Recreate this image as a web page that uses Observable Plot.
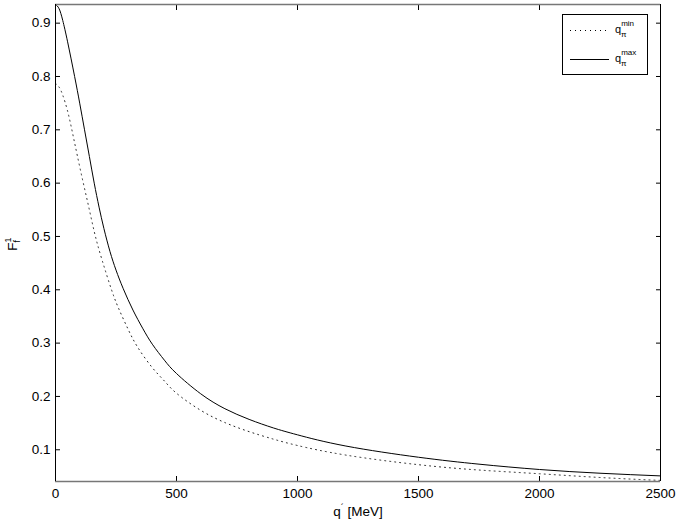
<!DOCTYPE html>
<html><head><meta charset="utf-8">
<script src="https://cdn.jsdelivr.net/npm/d3@7"></script>
<script src="https://cdn.jsdelivr.net/npm/@observablehq/plot@0.6"></script>
<style>
body{margin:0;background:#fff;}
#chart svg{display:block;}
</style></head><body><div id="chart"></div>
<script>
// q' [MeV] sample points and form factor values
const qMax = [0, 15, 30, 50, 79, 100, 120, 140, 160, 180, 200, 225, 250, 280, 320, 360, 400, 450, 500, 600, 700, 800, 900, 1000, 1200, 1500, 1750, 2000, 2250, 2500];
const fMax = [0.935, 0.927, 0.905, 0.865, 0.800, 0.750, 0.700, 0.650, 0.600, 0.555, 0.515, 0.472, 0.437, 0.402, 0.362, 0.328, 0.298, 0.268, 0.243, 0.205, 0.177, 0.157, 0.141, 0.128, 0.107, 0.086, 0.073, 0.063, 0.056, 0.051];
const qMin = [0, 15, 30, 50, 70, 90, 115, 140, 165, 195, 230, 260, 300, 340, 400, 450, 500, 600, 700, 800, 900, 1000, 1200, 1500, 1750, 2000, 2250, 2500];
const fMin = [0.787, 0.780, 0.765, 0.735, 0.695, 0.652, 0.600, 0.550, 0.500, 0.452, 0.402, 0.366, 0.326, 0.292, 0.254, 0.229, 0.206, 0.174, 0.151, 0.134, 0.120, 0.108, 0.090, 0.072, 0.062, 0.055, 0.048, 0.0425];
const xTicks = [0, 500, 1000, 1500, 2000, 2500];
const yTicks = [0.1, 0.2, 0.3, 0.4, 0.5, 0.6, 0.7, 0.8, 0.9];
const xDomain = [0, 2500];
const yDomain = [0.0405, 0.935];
const legendLabels = ["min", "max"];

const dataMin = qMin.map((q, i) => ({q, f: fMin[i]}));
const dataMax = qMax.map((q, i) => ({q, f: fMax[i]}));

const font = "'Liberation Sans', Arial, Helvetica, sans-serif";

const plot = Plot.plot({
  width: 680,
  height: 523,
  marginLeft: 55,
  marginRight: 20,
  marginTop: 4,
  marginBottom: 42,
  style: {fontFamily: font, fontSize: "13.5px", color: "black", background: "white"},
  x: {domain: xDomain, ticks: xTicks, label: null},
  y: {domain: yDomain, ticks: yTicks, label: null},
  marks: [
    Plot.axisX({anchor: "bottom", ticks: xTicks, tickSize: -5, tickPadding: 12, tickFormat: d => String(d), label: null}),
    Plot.axisX({anchor: "top", ticks: xTicks, tickSize: -5, tickFormat: () => "", label: null}),
    Plot.axisY({anchor: "left", ticks: yTicks, tickSize: -5, tickPadding: 10, tickFormat: d => d.toFixed(1), label: null}),
    Plot.axisY({anchor: "right", ticks: yTicks, tickSize: -5, tickFormat: () => "", label: null}),
    Plot.line(dataMin, {x: "q", y: "f", stroke: "#222", strokeWidth: 1, strokeDasharray: "1 4", curve: "natural"}),
    Plot.line(dataMax, {x: "q", y: "f", stroke: "black", strokeWidth: 1, curve: "natural"}),
    Plot.ruleY([yDomain[0], yDomain[1]], {stroke: "#777", strokeWidth: 1.5}),
    Plot.ruleX([xDomain[0], xDomain[1]], {stroke: "black", strokeWidth: 1})
  ]
});
document.getElementById("chart").appendChild(plot);

const svg = d3.select(plot);

// x label: q' [MeV]
const xl = svg.append("text")
  .attr("x", 358).attr("y", 516)
  .attr("text-anchor", "middle")
  .attr("font-family", font).attr("font-size", "13.5px").attr("fill", "black");
xl.append("tspan").text("q");
xl.append("tspan").attr("dy", -6).attr("font-size", "9px").text("´");
xl.append("tspan").attr("dy", 6).text(" [MeV]");

// y label: F_f^1 rotated
const yl = svg.append("text")
  .attr("transform", "translate(17,244) rotate(-90)")
  .attr("text-anchor", "middle")
  .attr("font-family", font).attr("font-size", "13.5px").attr("fill", "black");
yl.append("tspan").text("F");
yl.append("tspan").attr("dy", -6).attr("font-size", "9px").text("1");
yl.append("tspan").attr("dx", -5).attr("dy", 9).attr("font-size", "9px").text("f");

// legend box
const lg = svg.append("g").attr("text-anchor", "start");
lg.append("rect").attr("x", 562.5).attr("y", 14.5).attr("width", 85).attr("height", 60)
  .attr("fill", "white").attr("stroke", "black").attr("stroke-width", 1);
const rows = [{y: 30, dash: "1 4"}, {y: 59, dash: null}];
rows.forEach((r, i) => {
  const ln = lg.append("line").attr("x1", 570).attr("x2", 609).attr("y1", r.y + 0.5).attr("y2", r.y + 0.5)
    .attr("stroke", "black").attr("stroke-width", 1);
  if (r.dash) ln.attr("stroke-dasharray", r.dash);
  const t = lg.append("text").attr("x", 615).attr("y", r.y + 3).attr("text-anchor", "start")
    .attr("font-family", font).attr("font-size", "11px").attr("fill", "black");
  t.append("tspan").text("q");
  t.append("tspan").attr("dy", -7).attr("font-size", "8px").text(legendLabels[i]);
  lg.append("text").attr("x", 621).attr("y", r.y + 7).attr("text-anchor", "start")
    .attr("font-family", font).attr("font-size", "8px").attr("fill", "black").text("π");
});
</script>
</body></html>
